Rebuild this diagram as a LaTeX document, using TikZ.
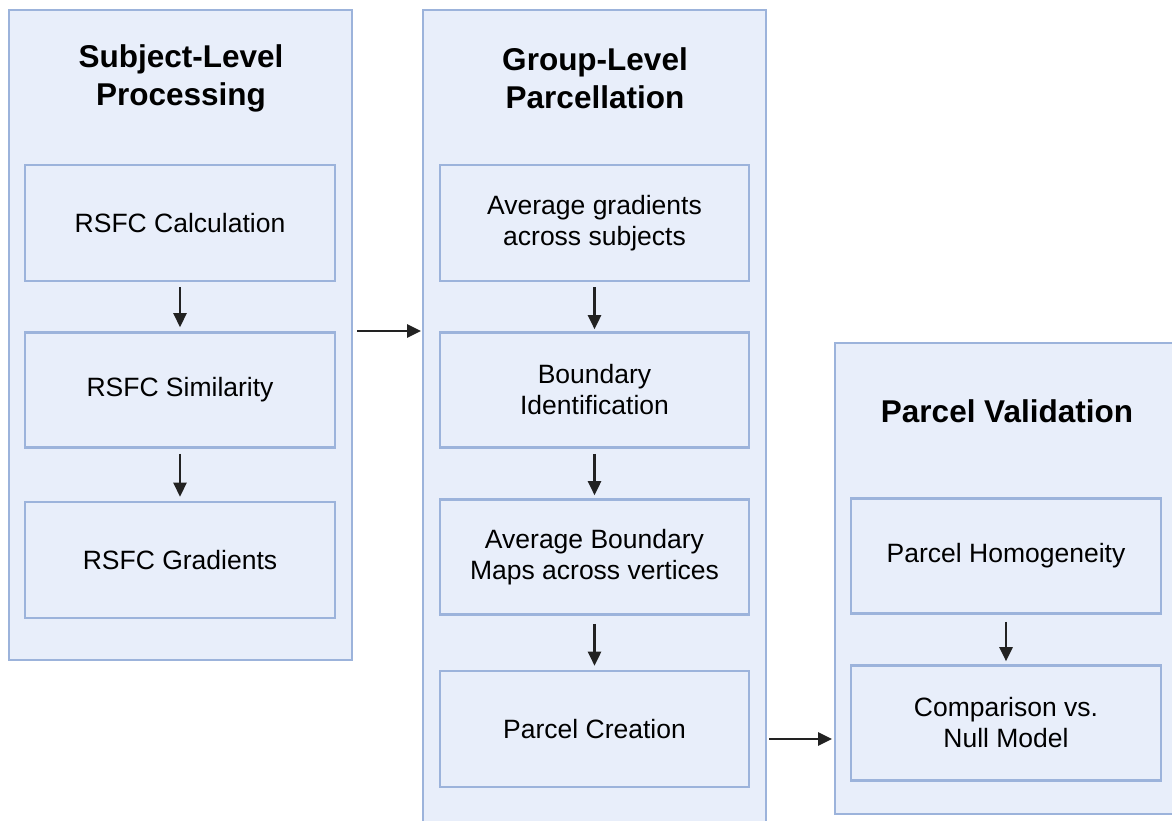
\documentclass[tikz,border=0pt]{standalone}
\usepackage{fontspec}
\setmainfont{Liberation Sans}
\usetikzlibrary{arrows.meta}
\definecolor{pfill}{HTML}{E8EEFA}
\definecolor{pline}{HTML}{9CB3DB}
\definecolor{arr}{HTML}{222222}
\begin{document}
\begin{tikzpicture}[x=1pt,y=-1pt,
  panel/.style={draw=pline,fill=pfill,line width=2.6pt},
  stepbox/.style={draw=pline,fill=pfill,line width=2.6pt,minimum width=#1,align=center,font=\fontsize{26.5}{31}\selectfont,inner sep=0pt},
  title/.style={align=center,font=\bfseries\fontsize{31.5}{38}\selectfont},
  flow/.style={draw=arr,line width=2.6pt,-{Triangle[length=14pt,width=13pt]}}]
\useasboundingbox (0,0) rectangle (1172,821);
\clip (0,0) rectangle (1172,821);
% panels
\draw[panel] (9,10) rectangle (352,660);
\draw[panel] (423,10) rectangle (766,830);
\draw[panel] (835,343) rectangle (1180,814);
\coordinate (p1e) at (352,331);
\coordinate (p2w) at (423,331);
\coordinate (p2e) at (766,739);
\coordinate (p3w) at (835,739);
% titles
\node[title] (t1) at (181,78) {Subject-Level\\Processing};
\node[title] (t2) at (595,78) {Group-Level\\Parcellation};
\node[title] (t3) at (1007,411) {Parcel Validation};
% left boxes
\node[stepbox=310pt,minimum height=116pt] (a1) at (180,223) {RSFC Calculation};
\node[stepbox=310pt,minimum height=115pt] (a2) at (180,390) {RSFC Similarity};
\node[stepbox=310pt,minimum height=116pt] (a3) at (180,560) {RSFC Gradients};
% middle boxes
\node[stepbox=309pt,minimum height=116pt] (b1) at (594.5,223) {Average gradients\\across subjects};
\node[stepbox=309pt,minimum height=115pt] (b2) at (594.5,390) {Boundary\\Identification};
\node[stepbox=309pt,minimum height=115pt] (b3) at (594.5,557) {Average Boundary\\Maps across vertices};
\node[stepbox=309pt,minimum height=116pt] (b4) at (594.5,729) {Parcel Creation};
% right boxes
\node[stepbox=310pt,minimum height=115pt] (c1) at (1006,556) {Parcel Homogeneity};
\node[stepbox=310pt,minimum height=115pt] (c2) at (1006,723) {Comparison vs.\\Null Model};
% arrows
\draw[flow] ([yshift=-5pt]a1.south) -- ([yshift=4pt]a2.north);
\draw[flow] ([yshift=-5pt]a2.south) -- ([yshift=4pt]a3.north);
\draw[flow] ([yshift=-5pt]b1.south) -- ([yshift=2pt]b2.north);
\draw[flow] ([yshift=-5pt]b2.south) -- ([yshift=3pt]b3.north);
\draw[flow] ([yshift=-8pt]b3.south) -- ([yshift=4pt]b4.north);
\draw[flow] ([yshift=-7pt]c1.south) -- ([yshift=3pt]c2.north);
\draw[flow] ([xshift=5pt]p1e) -- ([xshift=-2pt]p2w);
\draw[flow] ([xshift=3pt]p2e) -- ([xshift=-3pt]p3w);
\end{tikzpicture}
\end{document}
